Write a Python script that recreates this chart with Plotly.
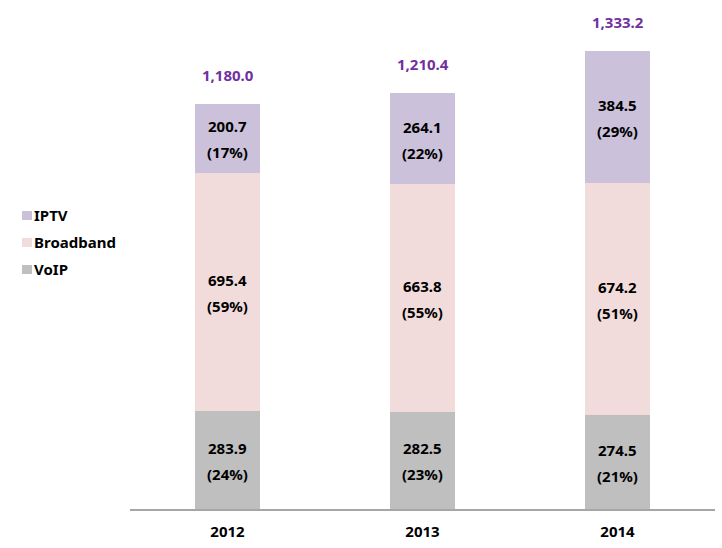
import plotly.graph_objects as go

years = ["2012", "2013", "2014"]
series_names = ["VoIP", "Broadband", "IPTV"]
voip = [283.9, 282.5, 274.5]
broadband = [695.4, 663.8, 674.2]
iptv = [200.7, 264.1, 384.5]
colors = ["#BFBFBF", "#F2DCDB", "#CCC1DA"]

series_values = [voip, broadband, iptv]
totals = [round(a + b + c, 1) for a, b, c in zip(voip, broadband, iptv)]

FONT = "Noto Sans"
FS = 15
W, H = 722, 548
ML, MR, MT, MB = 130, 7, 10, 39
plot_w = W - ML - MR
plot_h = H - MT - MB

fig = go.Figure()
for name, vals, col in zip(series_names, series_values, colors):
    fig.add_trace(go.Bar(x=years, y=vals, name=name, marker=dict(color=col, line=dict(width=0)),
                         showlegend=False, hoverinfo="skip"))

annotations = []
cum = [0.0] * len(years)
for vals in series_values:
    for i, yr in enumerate(years):
        mid = cum[i] + vals[i] / 2
        pct = round(vals[i] / totals[i] * 100)
        annotations.append(dict(x=i, y=mid, xref="x", yref="y", text=f"{vals[i]:.1f}",
                                showarrow=False, yshift=12,
                                font=dict(family=FONT, size=FS, color="#000000", weight="bold")))
        annotations.append(dict(x=i, y=mid, xref="x", yref="y", text=f"({pct}%)",
                                showarrow=False, yshift=-14,
                                font=dict(family=FONT, size=FS, color="#000000", weight="bold")))
        cum[i] += vals[i]

# totals
for i, yr in enumerate(years):
    annotations.append(dict(x=i, y=totals[i], xref="x", yref="y", text=f"{totals[i]:,.1f}",
                            showarrow=False, yshift=29,
                            font=dict(family=FONT, size=FS, color="#7030A0", weight="bold")))

# custom legend (IPTV, Broadband, VoIP from top)
shapes = []
leg_top = 211
for k, (name, col) in enumerate(zip(series_names[::-1], colors[::-1])):
    py0 = leg_top + k * 27
    py1 = py0 + 9
    shapes.append(dict(type="rect", xref="paper", yref="paper",
                       x0=(22 - ML) / plot_w, x1=(32 - ML) / plot_w,
                       y0=(H - MB - py1) / plot_h, y1=(H - MB - py0) / plot_h,
                       fillcolor=col, line=dict(width=0)))
    annotations.append(dict(x=(32 - ML) / plot_w, y=(H - MB - (py0 + 4)) / plot_h, xref="paper", yref="paper",
                            text=name, showarrow=False, xanchor="left", yanchor="middle",
                            font=dict(family=FONT, size=FS, color="#000000", weight="bold")))

ymax = plot_h / (458 / 1333.2)

fig.update_layout(
    width=W, height=H,
    margin=dict(l=ML, r=MR, t=MT, b=MB),
    barmode="stack", bargap=0.665,
    plot_bgcolor="white", paper_bgcolor="white",
    font=dict(family=FONT, size=FS, color="#000000"),
    xaxis=dict(type="category", showline=True, linecolor="#A6A6A6", linewidth=2, ticks="", showgrid=False,
               range=[-0.5, len(years) - 0.5], ticklabelstandoff=8,
               tickfont=dict(family=FONT, size=FS, color="#000000", weight="bold")),
    yaxis=dict(visible=False, range=[0, ymax], showgrid=False, zeroline=False),
    annotations=annotations, shapes=shapes,
)

fig.write_html("out.html")
